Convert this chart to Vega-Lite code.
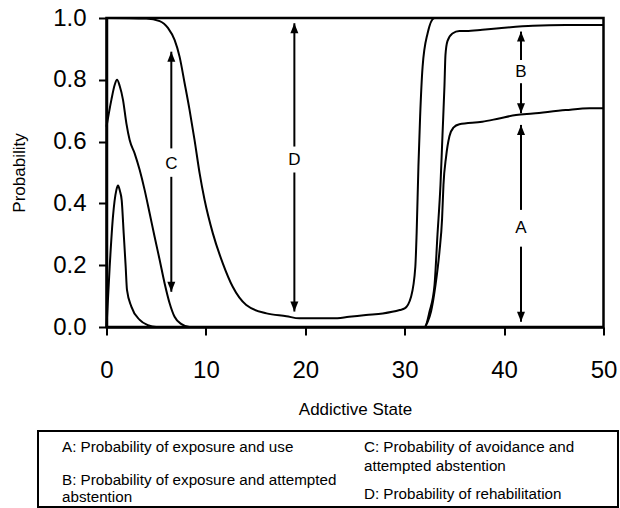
{
  "$schema": "https://vega.github.io/schema/vega-lite/v6.json",
  "width": 497,
  "height": 309,
  "autosize": {"type": "none"},
  "padding": {"left": 106.5, "top": 18, "right": 16.5, "bottom": 181},
  "background": "white",
  "config": {
    "font": "Liberation Sans",
    "view": {"stroke": "black", "strokeWidth": 2.5},
    "axis": {
      "domainColor": "black",
      "domainWidth": 2.5,
      "tickColor": "black",
      "tickWidth": 2,
      "tickSize": 8,
      "labelColor": "black",
      "titleColor": "black",
      "labelFont": "Liberation Sans",
      "titleFont": "Liberation Sans",
      "labelFontSize": 24,
      "titleFontSize": 17,
      "titleFontWeight": "normal",
      "grid": false,
      "labelFlush": false,
      "labelOverlap": false
    }
  },
  "datasets": {
    "curves": [
      {"boundary": "A", "state": 0, "p": 0},
      {"boundary": "A", "state": 0.32, "p": 0.195},
      {"boundary": "A", "state": 0.65, "p": 0.357},
      {"boundary": "A", "state": 0.99, "p": 0.443},
      {"boundary": "A", "state": 1.16, "p": 0.458},
      {"boundary": "A", "state": 1.35, "p": 0.44},
      {"boundary": "A", "state": 1.53, "p": 0.41},
      {"boundary": "A", "state": 1.73, "p": 0.303},
      {"boundary": "A", "state": 1.93, "p": 0.195},
      {"boundary": "A", "state": 2.06, "p": 0.12},
      {"boundary": "A", "state": 2.5, "p": 0.066},
      {"boundary": "A", "state": 3.34, "p": 0.023},
      {"boundary": "A", "state": 4.17, "p": 0.006},
      {"boundary": "A", "state": 5.0, "p": 0},
      {"boundary": "A", "state": 32.0, "p": 0},
      {"boundary": "A", "state": 32.3, "p": 0.016},
      {"boundary": "A", "state": 32.65, "p": 0.05},
      {"boundary": "A", "state": 33.1, "p": 0.136},
      {"boundary": "A", "state": 33.5, "p": 0.245},
      {"boundary": "A", "state": 33.76, "p": 0.35},
      {"boundary": "A", "state": 33.9, "p": 0.46},
      {"boundary": "A", "state": 34.16, "p": 0.55},
      {"boundary": "A", "state": 34.5, "p": 0.617},
      {"boundary": "A", "state": 34.9, "p": 0.645},
      {"boundary": "A", "state": 35.5, "p": 0.656},
      {"boundary": "A", "state": 37.8, "p": 0.664},
      {"boundary": "A", "state": 39.5, "p": 0.675},
      {"boundary": "A", "state": 41.2, "p": 0.686},
      {"boundary": "A", "state": 42.9, "p": 0.691},
      {"boundary": "A", "state": 46.2, "p": 0.702},
      {"boundary": "A", "state": 48.6, "p": 0.708},
      {"boundary": "A", "state": 50, "p": 0.708},

      {"boundary": "A+B", "state": 0, "p": 0.648},
      {"boundary": "A+B", "state": 0.49, "p": 0.735},
      {"boundary": "A+B", "state": 0.82, "p": 0.783},
      {"boundary": "A+B", "state": 1.06, "p": 0.8},
      {"boundary": "A+B", "state": 1.33, "p": 0.78},
      {"boundary": "A+B", "state": 1.66, "p": 0.735},
      {"boundary": "A+B", "state": 2.0, "p": 0.659},
      {"boundary": "A+B", "state": 2.33, "p": 0.605},
      {"boundary": "A+B", "state": 2.83, "p": 0.562},
      {"boundary": "A+B", "state": 3.34, "p": 0.508},
      {"boundary": "A+B", "state": 3.84, "p": 0.443},
      {"boundary": "A+B", "state": 4.34, "p": 0.368},
      {"boundary": "A+B", "state": 4.84, "p": 0.292},
      {"boundary": "A+B", "state": 5.35, "p": 0.217},
      {"boundary": "A+B", "state": 5.85, "p": 0.141},
      {"boundary": "A+B", "state": 6.35, "p": 0.077},
      {"boundary": "A+B", "state": 6.85, "p": 0.033},
      {"boundary": "A+B", "state": 7.5, "p": 0.01},
      {"boundary": "A+B", "state": 8.36, "p": 0},
      {"boundary": "A+B", "state": 32.0, "p": 0},
      {"boundary": "A+B", "state": 32.5, "p": 0.05},
      {"boundary": "A+B", "state": 33.0, "p": 0.136},
      {"boundary": "A+B", "state": 33.3, "p": 0.3},
      {"boundary": "A+B", "state": 33.6, "p": 0.46},
      {"boundary": "A+B", "state": 33.8, "p": 0.62},
      {"boundary": "A+B", "state": 34.0, "p": 0.78},
      {"boundary": "A+B", "state": 34.1, "p": 0.88},
      {"boundary": "A+B", "state": 34.3, "p": 0.925},
      {"boundary": "A+B", "state": 34.8, "p": 0.95},
      {"boundary": "A+B", "state": 35.5, "p": 0.958},
      {"boundary": "A+B", "state": 36.2, "p": 0.958},
      {"boundary": "A+B", "state": 37.8, "p": 0.962},
      {"boundary": "A+B", "state": 39.5, "p": 0.967},
      {"boundary": "A+B", "state": 42.9, "p": 0.975},
      {"boundary": "A+B", "state": 46.2, "p": 0.977},
      {"boundary": "A+B", "state": 50, "p": 0.977},

      {"boundary": "A+B+C", "state": 0, "p": 1.0},
      {"boundary": "A+B+C", "state": 4.0, "p": 0.998},
      {"boundary": "A+B+C", "state": 5.35, "p": 0.99},
      {"boundary": "A+B+C", "state": 6.2, "p": 0.967},
      {"boundary": "A+B+C", "state": 6.85, "p": 0.929},
      {"boundary": "A+B+C", "state": 7.35, "p": 0.875},
      {"boundary": "A+B+C", "state": 7.86, "p": 0.789},
      {"boundary": "A+B+C", "state": 8.36, "p": 0.702},
      {"boundary": "A+B+C", "state": 8.86, "p": 0.605},
      {"boundary": "A+B+C", "state": 9.37, "p": 0.497},
      {"boundary": "A+B+C", "state": 9.87, "p": 0.411},
      {"boundary": "A+B+C", "state": 10.7, "p": 0.303},
      {"boundary": "A+B+C", "state": 11.7, "p": 0.206},
      {"boundary": "A+B+C", "state": 12.7, "p": 0.13},
      {"boundary": "A+B+C", "state": 14.06, "p": 0.071},
      {"boundary": "A+B+C", "state": 16.1, "p": 0.044},
      {"boundary": "A+B+C", "state": 18.1, "p": 0.035},
      {"boundary": "A+B+C", "state": 19.4, "p": 0.028},
      {"boundary": "A+B+C", "state": 22.75, "p": 0.028},
      {"boundary": "A+B+C", "state": 24.4, "p": 0.033},
      {"boundary": "A+B+C", "state": 26.1, "p": 0.039},
      {"boundary": "A+B+C", "state": 27.8, "p": 0.044},
      {"boundary": "A+B+C", "state": 29.5, "p": 0.055},
      {"boundary": "A+B+C", "state": 30.0, "p": 0.06},
      {"boundary": "A+B+C", "state": 30.64, "p": 0.098},
      {"boundary": "A+B+C", "state": 31.07, "p": 0.195},
      {"boundary": "A+B+C", "state": 31.2, "p": 0.303},
      {"boundary": "A+B+C", "state": 31.38, "p": 0.519},
      {"boundary": "A+B+C", "state": 31.55, "p": 0.68},
      {"boundary": "A+B+C", "state": 31.8, "p": 0.842},
      {"boundary": "A+B+C", "state": 32.3, "p": 0.95},
      {"boundary": "A+B+C", "state": 33.0, "p": 1.0},
      {"boundary": "A+B+C", "state": 50, "p": 1.0}
    ],
    "arrows": [
      {"key": "A", "state": 41.7, "tip": 0.654, "end": 0.379, "dir": "up"},
      {"key": "A", "state": 41.7, "tip": 0.017, "end": 0.26, "dir": "down"},
      {"key": "B", "state": 41.7, "tip": 0.956, "end": 0.864, "dir": "up"},
      {"key": "B", "state": 41.7, "tip": 0.692, "end": 0.789, "dir": "down"},
      {"key": "C", "state": 6.52, "tip": 0.891, "end": 0.578, "dir": "up"},
      {"key": "C", "state": 6.52, "tip": 0.114, "end": 0.486, "dir": "down"},
      {"key": "D", "state": 18.9, "tip": 0.983, "end": 0.584, "dir": "up"},
      {"key": "D", "state": 18.9, "tip": 0.05, "end": 0.5, "dir": "down"}
    ],
    "labels": [
      {"key": "A", "state": 41.7, "p": 0.32},
      {"key": "B", "state": 41.7, "p": 0.826},
      {"key": "C", "state": 6.52, "p": 0.529},
      {"key": "D", "state": 18.9, "p": 0.54}
    ],
    "legend": [
      {"key": "A", "label": "A: Probability of exposure and use"},
      {"key": "B", "label": "B: Probability of exposure and attempted\nabstention"},
      {"key": "C", "label": "C: Probability of avoidance and\nattempted abstention"},
      {"key": "D", "label": "D: Probability of rehabilitation"}
    ]
  },
  "layer": [
    {
      "encoding": {
        "x": {
          "field": "state",
          "type": "quantitative",
          "scale": {"domain": [0, 50], "nice": false},
          "axis": {
            "title": "Addictive State",
            "values": [0, 10, 20, 30, 40, 50],
            "labelPadding": 23,
            "titlePadding": 19
          }
        }
      },
      "layer": [
        {
          "data": {"name": "curves"},
          "mark": {"type": "line", "color": "black", "strokeWidth": 2, "interpolate": "monotone"},
          "encoding": {
            "y": {
              "field": "p",
              "type": "quantitative",
              "scale": {"domain": [0, 1], "nice": false},
              "axis": {
                "title": "Probability",
                "values": [0, 0.2, 0.4, 0.6, 0.8, 1.0],
                "format": ".1f",
                "labelPadding": 12.5,
                "titlePadding": 24
              }
            },
            "detail": {"field": "boundary", "type": "nominal"}
          }
        },
        {
          "data": {"name": "arrows"},
          "mark": {"type": "rule", "color": "black", "strokeWidth": 2},
          "encoding": {
            "y": {"field": "tip", "type": "quantitative"},
            "y2": {"field": "end"}
          }
        },
        {
          "data": {"name": "arrows"},
          "mark": {"type": "point", "filled": true, "color": "black", "opacity": 1, "size": 100, "strokeWidth": 0},
          "encoding": {
            "y": {"field": "tip", "type": "quantitative"},
            "shape": {
              "field": "dir",
              "type": "nominal",
              "scale": {"domain": ["up", "down"], "range": ["M0,0L-0.8,2L0.8,2Z", "M0,0L-0.8,-2L0.8,-2Z"]},
              "legend": null
            }
          }
        },
        {
          "data": {"name": "labels"},
          "mark": {"type": "text", "fontSize": 17, "color": "black", "baseline": "middle", "align": "center"},
          "encoding": {
            "y": {"field": "p", "type": "quantitative"},
            "text": {"field": "key", "type": "nominal"}
          }
        }
      ]
    },
    {
      "data": {"name": "legend"},
      "encoding": {
        "x": {"datum": 0, "type": "quantitative", "scale": {"domain": [0, 1], "range": [-68.5, 511.5]}, "axis": null},
        "y": {"datum": 0, "type": "quantitative", "scale": {"domain": [0, 1], "range": [413, 489]}, "axis": null},
        "text": {"field": "label", "type": "nominal"}
      },
      "layer": [
        {
          "data": {"values": [{}]},
          "mark": {"type": "rect", "filled": false, "color": "black", "strokeWidth": 2},
          "encoding": {
            "x2": {"datum": 1},
            "y2": {"datum": 1},
            "text": null
          }
        },
        {
          "transform": [{"filter": "datum.key == 'A'"}],
          "mark": {"type": "text", "align": "left", "baseline": "top", "fontSize": 15.2, "color": "black"},
          "encoding": {"x": {"datum": 0.0414, "type": "quantitative"}, "y": {"datum": 0.124, "type": "quantitative"}}
        },
        {
          "transform": [{"filter": "datum.key == 'B'"}],
          "mark": {"type": "text", "align": "left", "baseline": "top", "fontSize": 15.2, "lineBreak": "\n", "lineHeight": 16.5, "color": "black"},
          "encoding": {"x": {"datum": 0.0414, "type": "quantitative"}, "y": {"datum": 0.556, "type": "quantitative"}}
        },
        {
          "transform": [{"filter": "datum.key == 'C'"}],
          "mark": {"type": "text", "align": "left", "baseline": "top", "fontSize": 15.2, "lineBreak": "\n", "lineHeight": 19, "color": "black"},
          "encoding": {"x": {"datum": 0.562, "type": "quantitative"}, "y": {"datum": 0.124, "type": "quantitative"}}
        },
        {
          "transform": [{"filter": "datum.key == 'D'"}],
          "mark": {"type": "text", "align": "left", "baseline": "top", "fontSize": 15.2, "color": "black"},
          "encoding": {"x": {"datum": 0.562, "type": "quantitative"}, "y": {"datum": 0.735, "type": "quantitative"}}
        }
      ]
    }
  ],
  "resolve": {"scale": {"x": "independent", "y": "independent"}}
}
